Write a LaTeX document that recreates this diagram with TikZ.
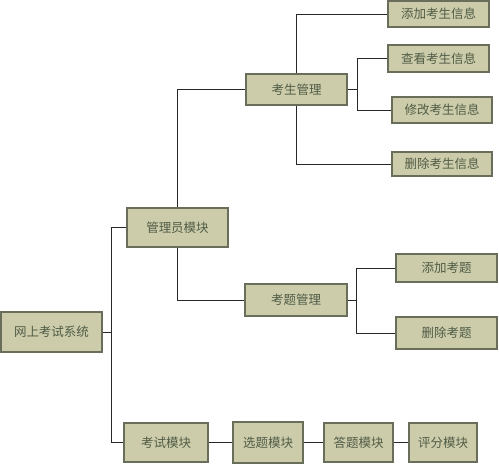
\documentclass[tikz,border=0pt]{standalone}
\usepackage{fontspec}
\setmainfont{Noto Sans CJK SC}
\usepackage{xcolor}
\usepackage{tikz}
\usetikzlibrary{positioning}
\definecolor{boxfill}{RGB}{204,204,170}
\definecolor{boxline}{RGB}{105,110,90}
\definecolor{boxtext}{RGB}{80,92,70}
\definecolor{wire}{RGB}{40,40,40}
\tikzset{
  modbox/.style={draw=boxline,line width=1.4pt,fill=boxfill,text=boxtext,
    font=\fontsize{12.5pt}{14pt}\selectfont,inner sep=0pt},
  wire/.style={draw=wire,line width=0.9pt}
}

\begin{document}
\begin{tikzpicture}[x=1pt,y=-1pt]
	\useasboundingbox (0,0) rectangle (499,465);
	% root and first level
	\node[modbox,minimum width=101,minimum height=40] (root)  at (51.5,332)  {网上考试系统};
	\node[modbox,minimum width=101,minimum height=39] (admin) at (177.5,227.5) {管理员模块};
	\node[modbox,minimum width=84,minimum height=39]  (exam)  at (166,442.5)  {考试模块};
	% exam chain
	\node[modbox,minimum width=70,minimum height=41]  (pick)  at (268,442.5)  {选题模块};
	\node[modbox,minimum width=69,minimum height=39]  (ans)   at (358.5,442.5) {答题模块};
	\node[modbox,minimum width=68,minimum height=39]  (score) at (443,442.5)  {评分模块};
	% admin branches
	\node[modbox,minimum width=101,minimum height=31] (stu)   at (296.5,89.5) {考生管理};
	\node[modbox,minimum width=102,minimum height=32] (qm)    at (296,300)    {考题管理};
	% student management
	\node[modbox,minimum width=101,minimum height=26] (s1) at (438.5,14)  {添加考生信息};
	\node[modbox,minimum width=101,minimum height=27] (s2) at (438.5,58.5) {查看考生信息};
	\node[modbox,minimum width=100,minimum height=26] (s3) at (442,110)   {修改考生信息};
	\node[modbox,minimum width=100,minimum height=24] (s4) at (442,164)   {删除考生信息};
	% question management
	\node[modbox,minimum width=101,minimum height=28] (q1) at (446.5,268) {添加考题};
	\node[modbox,minimum width=101,minimum height=32] (q2) at (446.5,333) {删除考题};
	% connectors
	\draw[wire] (root.east) -- ++(9,0) coordinate (rj);
	\draw[wire] (admin.west) -| (rj) |- (exam.west);
	\draw[wire] (admin.north) |- (stu.west);
	\draw[wire] (admin.south) |- (qm.west);
	\draw[wire] (stu.north) |- (s1.west);
	\draw[wire] (stu.south) |- (s4.west);
	\draw[wire] (stu.east) -- ++(10,0) coordinate (sj);
	\draw[wire] (s2.west) -| (sj) |- (s3.west);
	\draw[wire] (qm.east) -- ++(9,0) coordinate (qj);
	\draw[wire] (q1.west) -| (qj) |- (q2.west);
	\draw[wire] (exam) -- (pick) -- (ans) -- (score);
\end{tikzpicture}
\end{document}
